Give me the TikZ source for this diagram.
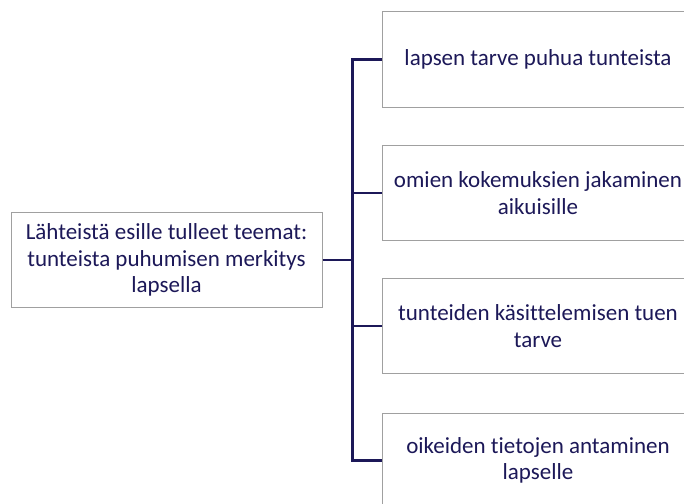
\documentclass[tikz,border=0pt]{standalone}
\usepackage{fontspec}
\setmainfont{Carlito}[Ligatures=NoCommon]
\definecolor{navy}{HTML}{1C1858}
\definecolor{boxgray}{HTML}{A0A0A0}
\begin{document}
\begin{tikzpicture}[x=1pt,y=-1pt,
  tbox/.style={draw=boxgray, line width=1pt, fill=white, minimum width=311pt, minimum height=95pt,
    inner sep=0pt, align=center, text=navy, font=\fontsize{23}{26.5}\selectfont, anchor=center},
  conn/.style={draw=navy, line width=2.4pt}]
\useasboundingbox (0,0) rectangle (684,503);
\clip (0,0) rectangle (684,503);
\fill[white] (0,0) rectangle (684,503);
\node[tbox] (root) at (166.5,260) {Lähteistä esille tulleet teemat:\\tunteista puhumisen merkitys\\lapsella};
\node[tbox] (b1) at (538,59.5) {lapsen tarve puhua tunteista};
\node[tbox] (b2) at (538,193) {omien kokemuksien jakaminen\\aikuisille};
\node[tbox] (b3) at (538,326) {tunteiden käsittelemisen tuen\\tarve};
\node[tbox] (b4) at (538,460.5) {oikeiden tietojen antaminen\\lapselle};
\coordinate (j) at (352.5,260);
\draw[conn] (root.east) -- (j);
\draw[conn] (b1.west) -| (j) |- (b4.west);
\draw[conn] (j) |- (b2.west);
\draw[conn] (j) |- (b3.west);
\end{tikzpicture}
\end{document}
